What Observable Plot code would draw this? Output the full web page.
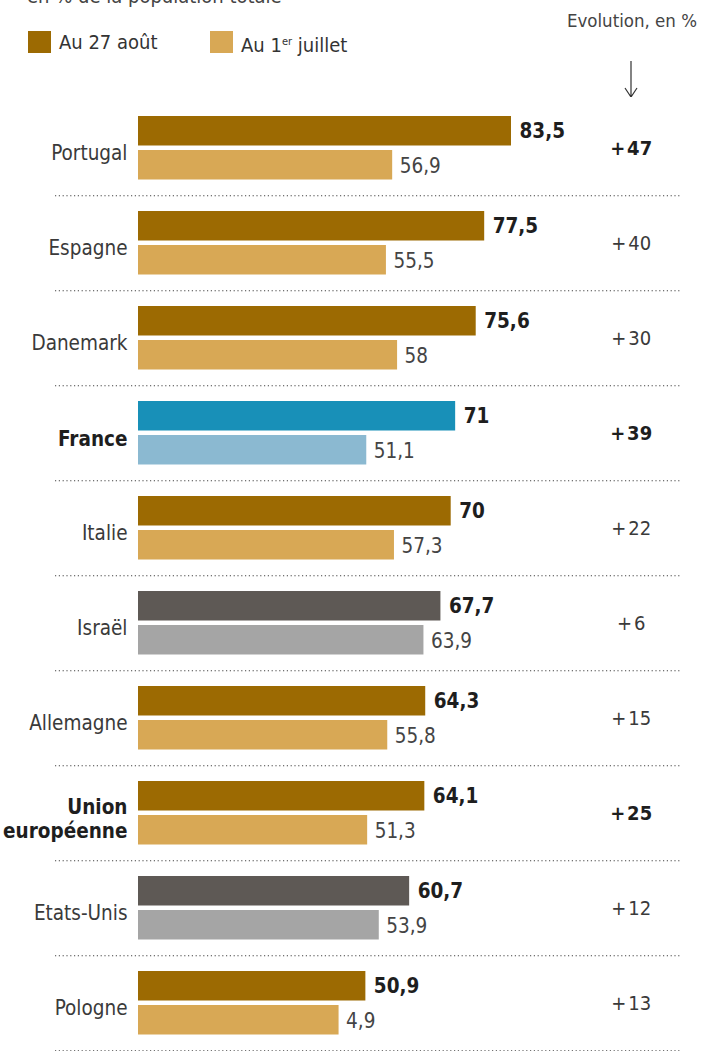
<!DOCTYPE html>
<html>
<head>
<meta charset="utf-8">
<script src="https://cdn.jsdelivr.net/npm/d3@7"></script>
<script src="https://cdn.jsdelivr.net/npm/@observablehq/plot@0.6"></script>
<style>
  body { margin: 0; background: #fff; font-family: "DejaVu Sans Condensed", "Roboto", sans-serif; color: #333; }
  #wrap { width: 701px; position: relative; }
  #header { position: relative; height: 97px; overflow: hidden; }
  .sub { position: absolute; left: 27px; top: -16px; font-size: 20px; color: #444; white-space: nowrap; }
  .sw { position: absolute; width: 23px; height: 22px; top: 31px; }
  .lg { position: absolute; top: 30px; font-size: 20px; line-height: 24px; color: #333; white-space: nowrap; }
  .evo { position: absolute; right: 4px; top: 10px; font-size: 18.5px; color: #444; white-space: nowrap; }
  #arrow { position: absolute; left: 622px; top: 60px; }
</style>
</head>
<body>
<div id="wrap">
  <div id="header">
    <div class="sub">en % de la population totale</div>
    <div class="sw" style="left:28px;background:#9c6a02"></div>
    <div class="lg" style="left:59px">Au 27 août</div>
    <div class="sw" style="left:210px;background:#d8a855"></div>
    <div class="lg" style="left:241px">Au 1<span style="font-size:11px;vertical-align:7px">er</span> juillet</div>
    <div class="evo">Evolution, en %</div>
    <svg id="arrow" width="18" height="40"><path d="M9,1 V36 M3,28 L9,37 L15,28" fill="none" stroke="#333" stroke-width="1.2"/></svg>
  </div>
  <div id="chart"></div>
</div>
<script>
const countries = ["Portugal","Espagne","Danemark","France","Italie","Israël","Allemagne","Union\neuropéenne","Etats-Unis","Pologne"];
const aout = [83.5, 77.5, 75.6, 71, 70, 67.7, 64.3, 64.1, 60.7, 50.9];
const juillet = [56.9, 55.5, 58, 51.1, 57.3, 63.9, 55.8, 51.3, 53.9, 44.9];
const aoutLabels = ["83,5","77,5","75,6","71","70","67,7","64,3","64,1","60,7","50,9"];
const juilletLabels = ["56,9","55,5","58","51,1","57,3","63,9","55,8","51,3","53,9","4,9"];
const evolution = [47, 40, 30, 39, 22, 6, 15, 25, 12, 13];
const groups = ["eu","eu","eu","france","eu","other","eu","eu","other","eu"];
const boldCountry = ["France", "Union\neuropéenne"];
const boldEvolution = ["Portugal", "France", "Union\neuropéenne"];

const darkColors = {eu: "#9c6a02", france: "#1890b8", other: "#5e5955"};
const lightColors = {eu: "#d8a855", france: "#8bb9d1", other: "#a5a5a5"};

const rows = countries.map((c, i) => ({
  country: c, aout: aout[i], juillet: juillet[i],
  aoutLabel: aoutLabels[i], juilletLabel: juilletLabels[i],
  evo: "+\u200A" + evolution[i], group: groups[i]
}));

const H = 955;
const step = H / countries.length;
const half = step / 2;
const font = "DejaVu Sans Condensed, Roboto, sans-serif";

const isBoldC = d => boldCountry.includes(d.country);
const isBoldE = d => boldEvolution.includes(d.country);

const chart = Plot.plot({
  width: 701,
  height: H,
  marginLeft: 138,
  marginRight: 116.3,
  marginTop: 0,
  marginBottom: 0,
  style: {fontFamily: font, background: "#fff", overflow: "visible"},
  x: {domain: [0, 100], axis: null},
  y: {domain: countries, axis: null, padding: 0},
  color: {type: "identity"},
  marks: [
    Plot.ruleY(countries, {y: d => d, dy: half, stroke: "#444", strokeWidth: 1.2, strokeDasharray: "1.2,2.6", insetLeft: -83, insetRight: -97}),
    Plot.barX(rows, {y: "country", x: "aout", fill: d => darkColors[d.group], insetTop: 16, insetBottom: step - 46}),
    Plot.barX(rows, {y: "country", x: "juillet", fill: d => lightColors[d.group], insetTop: 50, insetBottom: step - 80}),
    Plot.text(rows, {y: "country", x: "aout", text: "aoutLabel", dx: 8, dy: 31 - half, textAnchor: "start", fontSize: 20.5, fontWeight: "bold", fill: "#1e1e1e"}),
    Plot.text(rows, {y: "country", x: "juillet", text: "juilletLabel", dx: 7, dy: 66 - half, textAnchor: "start", fontSize: 20.5, fill: "#444"}),
    Plot.text(rows.filter(d => !isBoldC(d)), {y: "country", x: 0, text: "country", dx: -11, dy: 5, textAnchor: "end", fontSize: 20.5, fill: "#3a3a3a"}),
    Plot.text(rows.filter(isBoldC), {y: "country", x: 0, text: "country", dx: -11, dy: 5, textAnchor: "end", fontSize: 20.5, lineHeight: 1.17, fontWeight: "bold", fill: "#1e1e1e"}),
    Plot.text(rows.filter(d => !isBoldE(d)), {y: "country", x: 100, text: "evo", dx: 46, dy: 1, textAnchor: "middle", fontSize: 20, fill: "#3a3a3a"}),
    Plot.text(rows.filter(isBoldE), {y: "country", x: 100, text: "evo", dx: 46, dy: 1, textAnchor: "middle", fontSize: 20, fontWeight: "bold", fill: "#1e1e1e"})
  ]
});
document.getElementById("chart").appendChild(chart);
</script>
</body>
</html>
